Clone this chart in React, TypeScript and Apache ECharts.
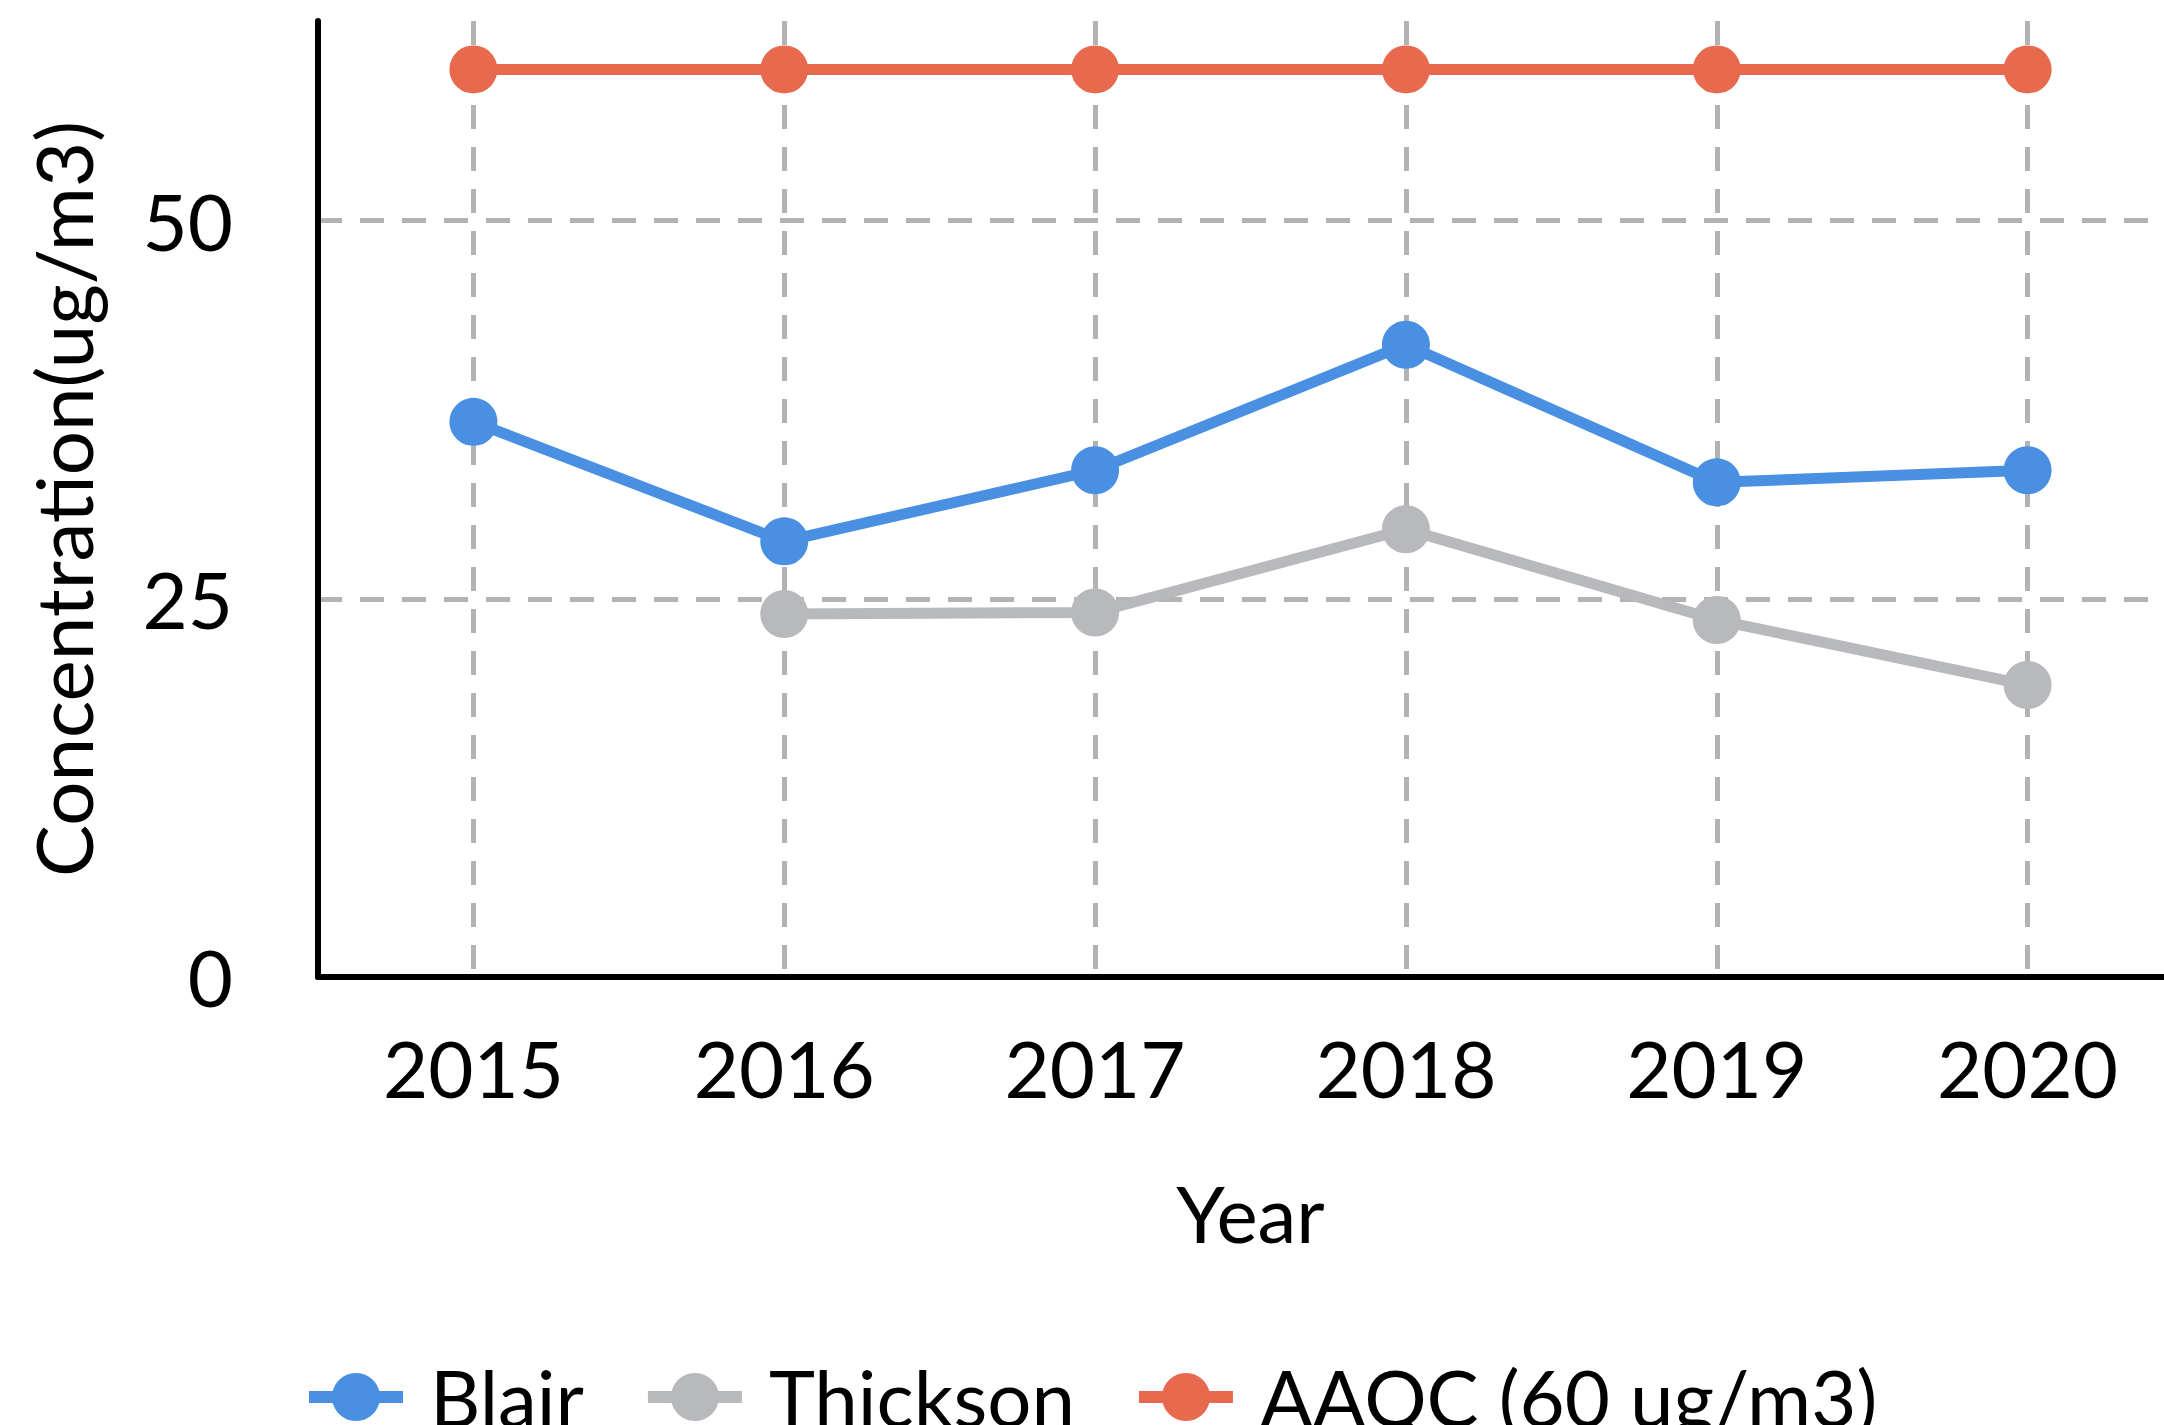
import React, { useEffect, useRef } from "react";
import * as echarts from "echarts";

const years = ["2015", "2016", "2017", "2018", "2019", "2020"];
const blair = [36.7, 28.8, 33.5, 41.8, 32.7, 33.5];
const thickson = [null, 24.0, 24.1, 29.6, 23.6, 19.3];
const aaqc = [60, 60, 60, 60, 60, 60];
const yMin = 0;
const yMax = 63.2;
const yInterval = 25;

const seriesNames = ["Blair", "Thickson", "AAQC (60 ug/m3)"];
const seriesColors = ["#4A90E2", "#B8B9BC", "#E86A4E"];

export default function App() {
  const ref = useRef<HTMLDivElement>(null);

  useEffect(() => {
    if (!ref.current) return;
    const chart = echarts.init(ref.current, undefined, { renderer: "svg" });
    const font = "Lato";
    const dataSets = [blair, thickson, aaqc];
    chart.setOption({
      animation: false,
      backgroundColor: "#ffffff",
      textStyle: { fontFamily: font, color: "#000" },
      grid: { left: 318, right: 17, top: 21, bottom: 448, containLabel: false },
      legend: {
        left: 303,
        top: 1358,
        padding: 0,
        itemWidth: 94,
        itemHeight: 60,
        itemGap: 58,
        data: seriesNames,
        lineStyle: { width: 12 },
        textStyle: { fontFamily: font, fontSize: 78, color: "#000", padding: [0, 0, 0, 22] },
      },
      xAxis: {
        type: "category",
        data: years,
        boundaryGap: true,
        name: "Year",
        nameLocation: "middle",
        nameGap: 197,
        nameTextStyle: { fontFamily: font, fontSize: 78, color: "#000" },
        axisLine: { show: true, lineStyle: { color: "#000", width: 6 } },
        axisTick: { show: false },
        axisLabel: { fontFamily: font, fontSize: 78, color: "#000", margin: 52 },
        splitLine: {
          show: true,
          alignWithLabel: true,
          lineStyle: { color: "#B3B3B3", width: 5, type: [24, 18] },
        },
      },
      yAxis: {
        type: "value",
        min: yMin,
        max: yMax,
        interval: yInterval,
        name: "Concentration(ug/m3)",
        nameLocation: "middle",
        nameGap: 216,
        nameTextStyle: { fontFamily: font, fontSize: 78, color: "#000" },
        axisLine: { show: true, lineStyle: { color: "#000", width: 6 } },
        axisTick: { show: false },
        axisLabel: {
          fontFamily: font,
          fontSize: 78,
          color: "#000",
          margin: 85,
          showMaxLabel: false,
        },
        splitLine: {
          show: true,
          showMinLine: false,
          showMaxLine: false,
          lineStyle: { color: "#B3B3B3", width: 5, type: [24, 18] },
        },
      },
      series: seriesNames.map((name, i) => ({
        name,
        type: "line",
        data: dataSets[i],
        symbol: "circle",
        symbolSize: 48,
        connectNulls: false,
        lineStyle: { color: seriesColors[i], width: 11 },
        itemStyle: { color: seriesColors[i] },
        emphasis: { disabled: true },
      })),
    });
    return () => chart.dispose();
  }, []);

  return (
    <div
      style={{
        position: "fixed",
        left: 0,
        top: 0,
        width: 2164,
        height: 1425,
        overflow: "hidden",
        background: "#fff",
      }}
    >
      <div ref={ref} style={{ width: 2200, height: 1425 }} />
    </div>
  );
}
